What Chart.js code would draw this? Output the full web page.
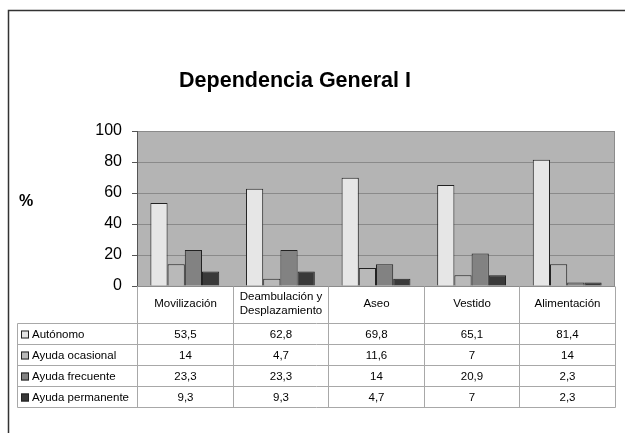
<!DOCTYPE html>
<html>
<head>
<meta charset="utf-8">
<script src="https://cdn.jsdelivr.net/npm/chart.js@4"></script>
<style>
  html,body{margin:0;padding:0;background:#fff;}
  #wrap{width:625px;height:433px;position:relative;}
</style>
</head>
<body>
<div id="wrap"><canvas id="c" width="625" height="433"></canvas></div>
<script>
const categories = [["Movilización"], ["Deambulación y", "Desplazamiento"], ["Aseo"], ["Vestido"], ["Alimentación"]];
const seriesNames = ["Autónomo", "Ayuda ocasional", "Ayuda frecuente", "Ayuda permanente"];
const autonomo = [53.5, 62.8, 69.8, 65.1, 81.4];
const ocasional = [14, 4.7, 11.6, 7, 14];
const frecuente = [23.3, 23.3, 14, 20.9, 2.3];
const permanente = [9.3, 9.3, 4.7, 7, 2.3];
const yTicks = [0, 20, 40, 60, 80, 100];
const titleText = "Dependencia General I";
const yAxisLabel = "%";

const colors = ["#e6e6e6", "#b9b9b9", "#828282", "#393939"];
const seriesData = [autonomo, ocasional, frecuente, permanente];

const FONT = "'Liberation Sans', Arial, sans-serif";
const fmt = v => String(v).replace('.', ',');

const decorPlugin = {
  id: 'decor',
  beforeDraw(chart) {
    const ctx = chart.ctx, a = chart.chartArea;
    ctx.save();
    ctx.fillStyle = '#fff';
    ctx.fillRect(0, 0, chart.width, chart.height);
    ctx.fillStyle = '#b4b4b4';
    ctx.fillRect(a.left, a.top, a.right - a.left, a.bottom - a.top);
    ctx.restore();
  },
  afterDraw(chart) {
    const ctx = chart.ctx, a = chart.chartArea;
    ctx.save();
    // outer frame
    ctx.strokeStyle = '#333';
    ctx.lineWidth = 1.5;
    ctx.beginPath();
    ctx.moveTo(8.5, chart.height);
    ctx.lineTo(8.5, 10.5);
    ctx.lineTo(chart.width, 10.5);
    ctx.stroke();
    // plot border (right + bottom)
    ctx.strokeStyle = '#8c8c8c';
    ctx.lineWidth = 1;
    ctx.beginPath();
    ctx.moveTo(Math.round(a.right) - 0.5, a.top);
    ctx.lineTo(Math.round(a.right) - 0.5, a.bottom);
    ctx.stroke();
    ctx.beginPath();
    ctx.moveTo(a.left, Math.round(a.bottom) + 0.5);
    ctx.lineTo(a.right, Math.round(a.bottom) + 0.5);
    ctx.stroke();
    // title
    ctx.fillStyle = '#000';
    ctx.font = 'bold 21.5px ' + FONT;
    ctx.textAlign = 'center';
    ctx.textBaseline = 'middle';
    ctx.fillText(titleText, 295, 81);
    // % label
    ctx.font = 'bold 16px ' + FONT;
    ctx.textAlign = 'left';
    ctx.fillText(yAxisLabel, 19, 202);

    // data table
    const n = categories.length;
    const cw = (a.right - a.left) / n;
    const bounds = [];
    for (let i = 0; i <= n; i++) bounds.push(Math.round(a.left + i * cw) + 0.5);
    const top = Math.round(a.bottom) + 0.5;
    const rowTops = [323.5, 344.5, 365.5, 386.5, 407.5];
    const tableLeft = 17.5;
    ctx.strokeStyle = '#a8a8a8';
    ctx.lineWidth = 1;
    ctx.beginPath();
    bounds.forEach(x => { ctx.moveTo(x, top); ctx.lineTo(x, rowTops[rowTops.length - 1]); });
    ctx.moveTo(tableLeft, rowTops[0]); ctx.lineTo(tableLeft, rowTops[rowTops.length - 1]);
    rowTops.forEach(y => { ctx.moveTo(tableLeft, y); ctx.lineTo(bounds[n], y); });
    ctx.stroke();

    ctx.fillStyle = '#000';
    ctx.font = '11.5px ' + FONT;
    ctx.textAlign = 'center';
    ctx.textBaseline = 'middle';
    categories.forEach((lines, i) => {
      const cx = (bounds[i] + bounds[i + 1]) / 2;
      const midY = (top + rowTops[0]) / 2 - 1;
      const lh = 14;
      lines.forEach((t, j) => {
        ctx.fillText(t, cx, midY + (j - (lines.length - 1) / 2) * lh);
      });
    });
    seriesNames.forEach((name, r) => {
      const cy = (rowTops[r] + rowTops[r + 1]) / 2 + 0.5;
      ctx.fillStyle = colors[r];
      ctx.fillRect(21, cy - 4, 8, 8);
      ctx.strokeStyle = '#222';
      ctx.strokeRect(21.5, cy - 3.5, 7, 7);
      ctx.fillStyle = '#000';
      ctx.textAlign = 'left';
      ctx.fillText(name, 32, cy);
      ctx.textAlign = 'center';
      seriesData[r].forEach((v, i) => {
        ctx.fillText(fmt(v), (bounds[i] + bounds[i + 1]) / 2, cy);
      });
    });
    ctx.restore();
  }
};

new Chart(document.getElementById('c'), {
  type: 'bar',
  data: {
    labels: categories.map(l => l.join(' ')),
    datasets: seriesNames.map((name, i) => ({
      label: name,
      data: seriesData[i],
      backgroundColor: colors[i],
      borderColor: '#222',
      borderWidth: 1,
      borderSkipped: 'bottom',
      categoryPercentage: 0.72,
      barPercentage: 1.0
    }))
  },
  options: {
    responsive: false,
    animation: false,
    devicePixelRatio: 1,
    layout: { padding: { left: 0, right: 10, top: 131, bottom: 147 } },
    plugins: { legend: { display: false }, title: { display: false }, tooltip: { enabled: false } },
    scales: {
      x: { display: false },
      y: {
        min: 0, max: 100,
        afterFit(s) { s.width = 137; },
        afterBuildTicks(s) { s.ticks = yTicks.map(v => ({ value: v })); },
        ticks: { color: '#000', font: { size: 16, family: FONT }, padding: 10 },
        grid: { color: '#8a8a8a', tickLength: 5, drawTicks: true, tickColor: '#555' },
        border: { display: true, color: '#555' }
      }
    }
  },
  plugins: [decorPlugin]
});
</script>
</body>
</html>
